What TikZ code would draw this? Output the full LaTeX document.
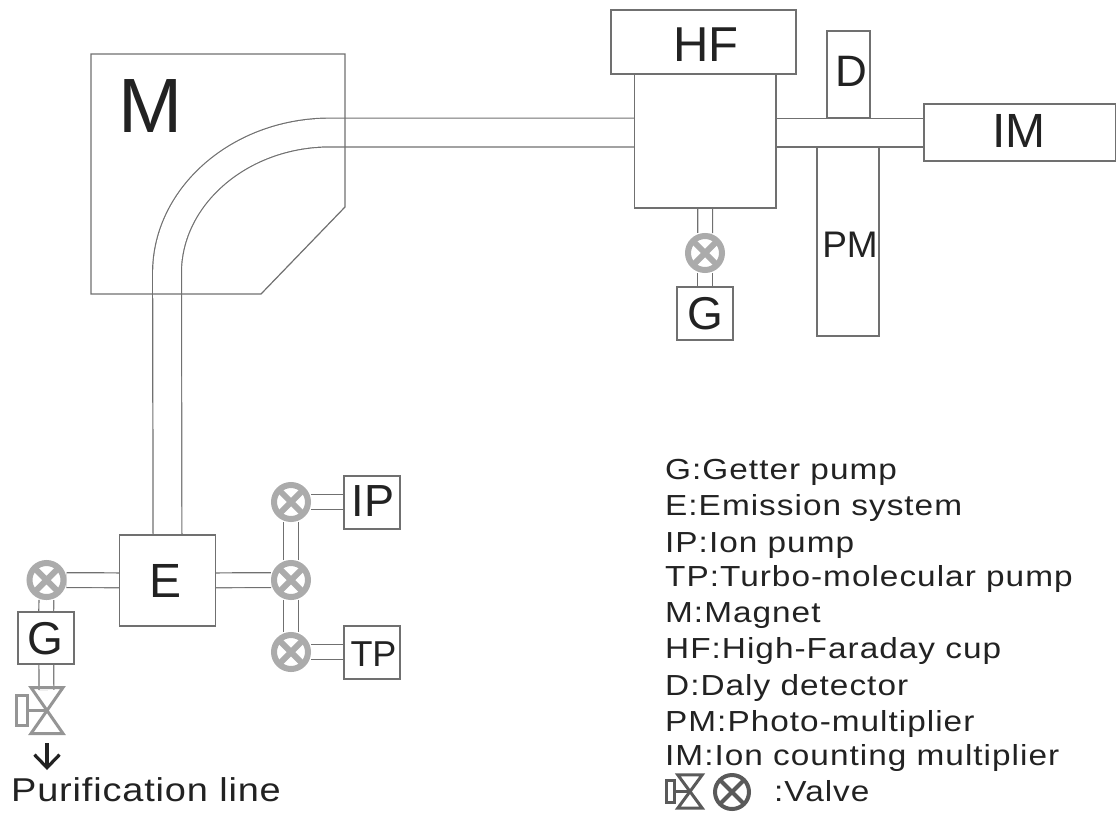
\documentclass[tikz,border=0pt]{standalone}
\usepackage{fontspec}
\setmainfont{Liberation Sans}
\newfontfamily\widefont[FakeStretch=1.15,LetterSpace=3.5]{Liberation Sans}
\newfontfamily\purfont[FakeStretch=1.15,LetterSpace=2.5]{Liberation Sans}
\usetikzlibrary{calc,arrows.meta}
\pgfdeclarelayer{back}
\pgfsetlayers{back,main}
\definecolor{linegray}{HTML}{707070}
\definecolor{valvegray}{HTML}{ABABAB}
\definecolor{handlegray}{HTML}{959595}
\definecolor{inkdark}{HTML}{222222}
\definecolor{legendgray}{HTML}{5A5A5A}
\newcommand{\fs}[1]{\fontsize{#1}{#1}\selectfont}
\tikzset{
  x=1pt,y=-1pt,
  boxnode/.style={draw=linegray,line width=1.2pt,fill=white,inner sep=0pt,minimum width=#1},
  labeltext/.style={inner sep=0pt,text=inkdark},
  tube/.style={draw=linegray,line width=1.2pt,double=white,double distance=13.6pt},
  bigtube/.style={draw=linegray,line width=1.2pt,double=white,double distance=27.6pt},
  valve/.style 2 args={circle,draw=#1,line width=#2,fill=white,minimum size=34pt,inner sep=0pt,
    path picture={\draw[#1,line width=#2]
      (path picture bounding box.north west)--(path picture bounding box.south east)
      (path picture bounding box.north east)--(path picture bounding box.south west);}},
  legendtext/.style={anchor=base west,inner sep=0pt,text=inkdark,font=\widefont\fs{29}},
  bowtie/.pic={
    \draw[pic actions,line join=miter]
      (-16,-23)--(16,-23)--(-16,23)--(16,23)--cycle;
    \draw[pic actions] (-2,0)--(-20,0);
    \draw[pic actions] (-31,-15) rectangle (-20,15);
  },
}
\begin{document}
\begin{tikzpicture}
\useasboundingbox (0,0) rectangle (1116,812);
% boxes
\node[boxnode=96pt,minimum height=91pt] (E) at (167.5,580.5) {};
\node[boxnode=141.5pt,minimum height=134pt] (chamber) at (705.25,141) {};
\node[boxnode=185pt,minimum height=64pt] (HF) at (703.5,42) {};
\node[boxnode=43pt,minimum height=87pt] (D) at (848.5,74.5) {};
\node[boxnode=62pt,minimum height=189pt] (PM) at (848,241.5) {};
\node[boxnode=192pt,minimum height=57pt] (IM) at (1020,132.5) {};
\node[boxnode=56pt,minimum height=53pt] (Gtop) at (705,313.5) {};
\node[boxnode=56pt,minimum height=52pt] (Glow) at (46,638) {};
\node[boxnode=56pt,minimum height=53pt] (IP) at (372,502.5) {};
\node[boxnode=56pt,minimum height=53pt] (TP) at (372,652.5) {};
% box labels
\node[labeltext] (tE) at (166,580.5) {\fs{48}E};
\node[labeltext] (tHF) at (706,45) {\fs{49}HF};
\node[labeltext] (tD) at (851.5,71) {\fs{44}D};
\node[labeltext] (tPM) at (850,244.5) {\fs{37}PM};
\node[labeltext] (tIM) at (1019,130.5) {\fs{48}IM};
\node[labeltext] (tGt) at (705.5,314) {\fs{46}G};
\node[labeltext] (tGl) at (45.5,638.5) {\fs{46}G};
\node[labeltext] (tIP) at (373,501) {\fs{45}IP};
\node[labeltext] (tTP) at (373.5,654) {\fs{36}TP};
% valves
\node[valve={valvegray}{6pt}] (Vtop) at (705,253) {};
\node[valve={valvegray}{6pt}] (Vleft) at (46.5,580) {};
\node[valve={valvegray}{6pt}] (Vip) at (291,502) {};
\node[valve={valvegray}{6pt}] (Vmid) at (291,580) {};
\node[valve={valvegray}{6pt}] (Vtp) at (291,652) {};
% lower bowtie valve
\coordinate (Bt) at (47,710.5);
\pic[draw=handlegray,line width=3pt] at (Bt) {bowtie};
% magnet
\coordinate (mag1) at (91,54);
\coordinate (mag2) at (345,54);
\coordinate (mag3) at (345,207);
\coordinate (mag4) at (261,294);
\coordinate (mag5) at (91,294);
\draw[linegray,line width=1.2pt] (mag1)--(mag2)--(mag3)--(mag4)--(mag5)--cycle;
\node[labeltext] (Mlabel) at (150.5,106) {\fs{77}M};
% tubes
\coordinate (bendA) at (167,273);
\coordinate (bendB) at (330,132.5);
\coordinate (glowEnd) at (46.5,690);
\begin{pgfonlayer}{back}
\draw[bigtube] (E.north) -- (bendA) .. controls (167,196) and (240,132.5) .. (bendB) -- (chamber.west |- bendB);
\draw[bigtube] (chamber.east |- IM) -- (IM);
\draw[tube] (chamber) -- (Vtop);
\draw[tube] (Vtop) -- (Gtop);
\draw[tube] (E) -- (Vleft);
\draw[tube] (Vleft) -- (Glow);
\draw[tube] (Glow) -- (glowEnd);
\draw[tube] (E) -- (Vmid);
\draw[tube] (Vmid) -- (Vip);
\draw[tube] (Vmid) -- (Vtp);
\draw[tube] (Vip) -- (IP.west |- Vip);
\draw[tube] (Vtp) -- (TP.west |- Vtp);
\end{pgfonlayer}
% purification
\node[inner sep=0pt,anchor=base west,text=inkdark] (Pur) at (11,801) {\purfont\fs{33}Purification line};
\coordinate (Aend) at (47,770);
\coordinate (Astart) at (47,743);
\draw[inkdark,line width=3.2pt,-{Straight Barb[length=13pt,width=25pt]}] (Astart) -- (Aend);
% legend
\node[legendtext] (L1) at (665,479) {G:Getter pump};
\node[legendtext] (L2) at (665,515) {E:Emission system};
\node[legendtext] (L3) at (665,552) {IP:Ion pump};
\node[legendtext] (L4) at (665,586) {TP:Turbo-molecular pump};
\node[legendtext] (L5) at (665,622) {M:Magnet};
\node[legendtext] (L6) at (665,658) {HF:High-Faraday cup};
\node[legendtext] (L7) at (665,695) {D:Daly detector};
\node[legendtext] (L8) at (665,731) {PM:Photo-multiplier};
\node[legendtext] (L9) at (665,765) {IM:Ion counting multiplier};
\node[legendtext] (L10) at (774,801) {:Valve};
\coordinate (LB) at (690,791.5);
\pic[draw=legendgray,line width=3pt,xscale=0.76,yscale=0.72] at (LB) {bowtie};
\node[valve={legendgray}{4pt}] (LV) at (732,792) {};
\end{tikzpicture}
\end{document}
